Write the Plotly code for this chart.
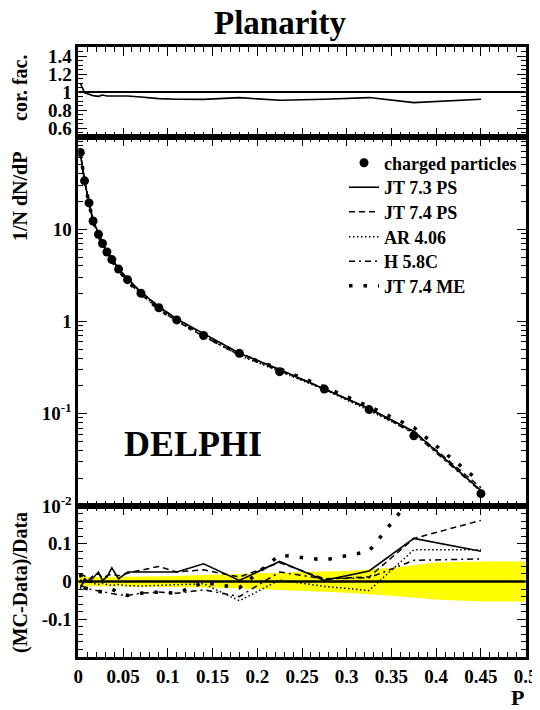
import plotly.graph_objects as go

# ---------------- data ----------------
P = [0.0022, 0.007, 0.012, 0.0165, 0.0225, 0.027, 0.032, 0.0375, 0.045, 0.055,
     0.07, 0.09, 0.11, 0.14, 0.18, 0.225, 0.275, 0.325, 0.375, 0.45]
dist_data = [68, 33.5, 19.3, 12.3, 8.8, 7.0, 5.67, 4.69, 3.7, 2.84,
             2.03, 1.41, 1.04, 0.705, 0.452, 0.286, 0.185, 0.111, 0.0577, 0.0136]
cor_fac = [1.10, 0.99, 0.975, 0.96, 0.952, 0.967, 0.955, 0.955, 0.963, 0.955,
           0.945, 0.926, 0.92, 0.918, 0.937, 0.908, 0.92, 0.938, 0.882, 0.919]

res_jt73ps = [-0.019, 0.007, -0.002, 0.010, 0.025, 0.003, 0.012, 0.036, 0.007, 0.025,
              0.025, 0.026, 0.025, 0.047, 0.003, 0.053, 0.003, 0.028, 0.114, 0.080]
res_jt74ps = [0.020, 0.015, 0.005, 0.015, 0.020, 0.010, 0.015, 0.020, 0.015, 0.022,
              0.030, 0.040, 0.025, 0.031, 0.012, 0.050, 0.007, 0.012, 0.114, 0.162]
res_ar406 = [0.005, -0.005, 0.000, -0.005, -0.008, -0.005, -0.008, -0.010, -0.008, -0.011,
             -0.012, -0.010, -0.009, -0.006, -0.051, 0.004, -0.013, -0.024, 0.084, 0.084]
res_h58c = [-0.010, -0.015, -0.020, -0.022, -0.025, -0.028, -0.030, -0.032, -0.035, -0.037,
            -0.031, -0.028, -0.031, -0.022, -0.040, 0.025, 0.007, 0.010, 0.056, 0.060]
res_jt74me = [0.020, -0.017, -0.020, -0.022, -0.025, -0.028, -0.025, -0.020, -0.030, -0.037,
              -0.031, -0.028, -0.031, -0.003, -0.017, 0.070, 0.057, 0.080, 0.230, 0.320]

band_P = [0, 0.05, 0.1, 0.15, 0.2, 0.25, 0.3, 0.35, 0.4, 0.45, 0.5]
band_hi = [0.011, 0.012, 0.014, 0.018, 0.022, 0.025, 0.028, 0.036, 0.050, 0.053, 0.053]
band_lo = [-0.012, -0.013, -0.014, -0.016, -0.020, -0.024, -0.030, -0.038, -0.048, -0.053, -0.053]

x_tickvals = [0, 0.05, 0.1, 0.15, 0.2, 0.25, 0.3, 0.35, 0.4, 0.45, 0.5]
x_ticktext = ["0", "0.05", "0.1", "0.15", "0.2", "0.25", "0.3", "0.35", "0.4", "0.45", "0.5"]
cf_tickvals = [0.6, 0.8, 1.0, 1.2, 1.4]
cf_ticktext = ["0.6", "0.8", "1", "1.2", "1.4"]
log_tickvals = [0.01, 0.1, 1, 10]
log_ticktext = ["10<sup>-2</sup>", "10<sup>-1</sup>", "1", "10"]
res_tickvals = [-0.1, 0, 0.1]
res_ticktext = ["-0.1", "0", "0.1"]

models = [
    ("JT 7.3 PS", res_jt73ps, dict(width=1.6, dash="solid")),
    ("JT 7.4 PS", res_jt74ps, dict(width=1.5, dash="6px,4px")),
    ("AR 4.06", res_ar406, dict(width=1.5, dash="1.5px,2.5px")),
    ("H 5.8C", res_h58c, dict(width=1.5, dash="6px,4px,2px,4px")),
    ("JT 7.4 ME", res_jt74me, dict(width=3.5, dash="3.5px,11px")),
]

FONT = "Liberation Serif"
W, H = 532, 702   # page body has an 8px default margin


def px(X):
    return (X - 8) / W


def py(Y):
    return 1 - (Y - 8) / H


legend_rows = [163, 187.5, 212, 237, 261.5, 286]
legend_ids = ["legend", "legend2", "legend3", "legend4", "legend5", "legend6"]

fig = go.Figure()

# ---- top panel: correction factor
fig.add_trace(go.Scatter(x=P, y=cor_fac, mode="lines", line=dict(color="black", width=1.6),
                         xaxis="x", yaxis="y", showlegend=False))

# ---- middle panel
fig.add_trace(go.Scatter(x=P, y=dist_data, mode="markers", name="charged particles",
                         marker=dict(color="black", size=9), xaxis="x2", yaxis="y2",
                         legend=legend_ids[0]))
for i, (name, res, ln) in enumerate(models):
    mc = [d * (1 + r) for d, r in zip(dist_data, res)]
    fig.add_trace(go.Scatter(x=P, y=mc, mode="lines", name=name,
                             line=dict(color="black", **ln), xaxis="x2", yaxis="y2",
                             legend=legend_ids[i + 1]))

# ---- bottom panel
fig.add_trace(go.Scatter(x=band_P, y=band_lo, mode="lines", line=dict(width=0, color="#ffff00"),
                         xaxis="x3", yaxis="y3", showlegend=False, hoverinfo="skip"))
fig.add_trace(go.Scatter(x=band_P, y=band_hi, mode="lines", line=dict(width=0, color="#ffff00"),
                         fill="tonexty", fillcolor="#ffff00",
                         xaxis="x3", yaxis="y3", showlegend=False, hoverinfo="skip"))
for name, res, ln in models:
    fig.add_trace(go.Scatter(x=P, y=res, mode="lines", name=name,
                             line=dict(color="black", **ln), xaxis="x3", yaxis="y3",
                             showlegend=False, cliponaxis=True))

XDOM = [px(78.3), px(525.7)]
tickfont = dict(family=FONT, size=19, color="black", weight="bold")


def xax(anchor, labels):
    return dict(domain=XDOM, range=[0, 0.5], anchor=anchor, automargin=False,
                tickvals=x_tickvals, ticktext=x_ticktext, showticklabels=labels,
                ticklabeloverflow="allow",
                ticks="inside", ticklen=9, tickwidth=1.3, tickcolor="black",
                minor=dict(ticks="inside", ticklen=5, dtick=0.01, tick0=0, tickwidth=1, tickcolor="black"),
                showline=True, linewidth=2.5, linecolor="black", mirror="ticks",
                showgrid=False, zeroline=False, tickfont=tickfont)


def yax(dom, anchor, **kw):
    d = dict(domain=dom, anchor=anchor, automargin=False, ticklabeloverflow="allow",
             ticks="inside", ticklen=9, tickwidth=1.3, tickcolor="black",
             showline=True, linewidth=2.5, linecolor="black", mirror="ticks",
             showgrid=False, zeroline=False, tickfont=tickfont)
    d.update(kw)
    return d


cf_minor = [0.5 + 0.05 * i for i in range(21)]
log_minor = [k * 10 ** e for e in (-2, -1, 0, 1) for k in range(2, 10)]


def ann(text, X, Y, size, angle=0):
    return dict(text=f"<b>{text}</b>", x=px(X), y=py(Y), xref="paper", yref="paper",
                xanchor="center", yanchor="middle", showarrow=False, textangle=angle,
                font=dict(family=FONT, size=size, color="black"))


def leg(Y):
    return dict(x=px(344), y=py(Y), xanchor="left", yanchor="middle",
                bgcolor="rgba(0,0,0,0)", borderwidth=0,
                font=dict(family=FONT, size=18, color="black", weight="bold"),
                itemwidth=30)


legends = {lid: leg(Y) for lid, Y in zip(legend_ids, legend_rows)}

fig.update_layout(
    width=W, height=H, margin=dict(l=0, r=0, t=0, b=0, autoexpand=False),
    paper_bgcolor="white", plot_bgcolor="white",
    xaxis=xax("y", False), xaxis2=xax("y2", False), xaxis3=xax("y3", True),
    yaxis=yax([py(137), py(47)], "x", range=[0.5, 1.5],
              tickvals=cf_tickvals, ticktext=cf_ticktext,
              minor=dict(ticks="inside", ticklen=5, tickvals=cf_minor, tickcolor="black")),
    yaxis2=yax([py(506), py(137)], "x2", type="log", range=[-2, 2],
               tickvals=log_tickvals, ticktext=log_ticktext,
               minor=dict(ticks="inside", ticklen=5, tickvals=log_minor, tickcolor="black")),
    yaxis3=yax([py(657), py(506)], "x3", range=[-0.2, 0.2],
               tickvals=res_tickvals, ticktext=res_ticktext,
               minor=dict(ticks="inside", ticklen=5, dtick=0.02, tick0=0, tickcolor="black")),
    shapes=[
        dict(type="line", xref="x", yref="y", x0=0, x1=0.5, y0=1, y1=1,
             line=dict(color="black", width=2), layer="above"),
        dict(type="line", xref="x3", yref="y3", x0=0, x1=0.5, y0=0, y1=0,
             line=dict(color="black", width=2.5), layer="above"),
    ],
    annotations=[
        ann("Planarity", 280, 23, 33),
        ann("DELPHI", 193, 444, 36),
        ann("P", 517, 697, 22),
        ann("cor. fac.", 20, 88, 20, -90),
        ann("1/N dN/dP", 20, 197, 20, -90),
        ann("(MC-Data)/Data", 20, 583, 20, -90),
    ],
    **legends,
)

fig.write_html("out.html")
